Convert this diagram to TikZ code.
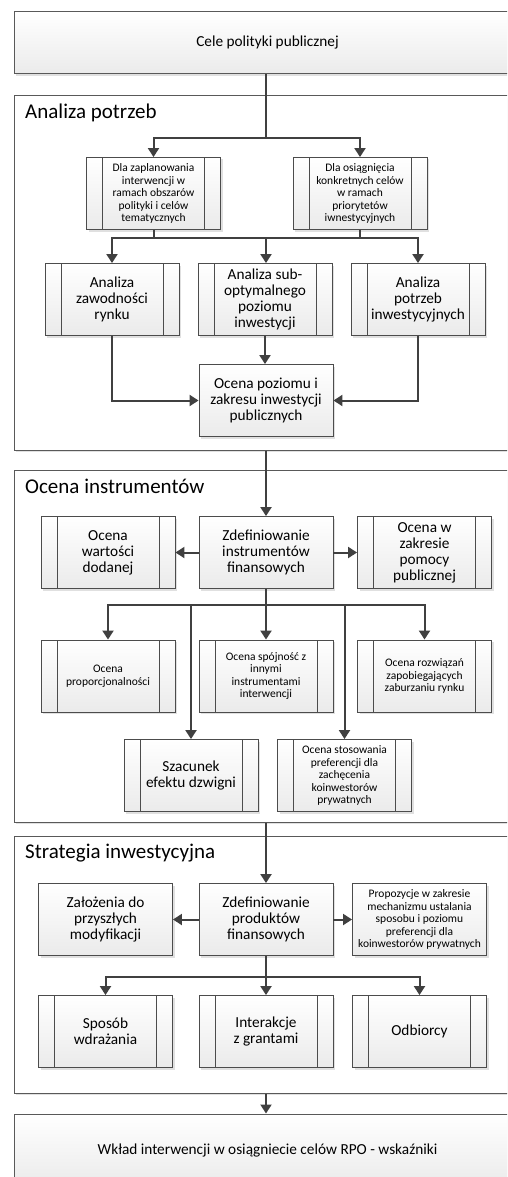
\documentclass[tikz,border=0pt]{standalone}
\usepackage{fontspec}
\setmainfont{Carlito}
\usetikzlibrary{arrows.meta,shadows}

\newlength{\du}
\setlength{\du}{1pt}

\tikzset{
  bigtxt/.style={font=\fontsize{15.3}{16}\selectfont},
  smalltxt/.style={font=\fontsize{11.5}{12.5}\selectfont},
  titletxt/.style={font=\fontsize{21}{23}\selectfont, inner sep=0pt, anchor=base west},
  frame/.style={draw=frameline, line width=1pt, fill=white, minimum width=507\du,
    drop shadow={shadow xshift=2pt, shadow yshift=-2pt, fill=black!12, opacity=1}},
  endbox/.style={frame, top color=white, bottom color=boxfill, bigtxt},
  procbox/.style={draw=boxline, line width=0.9pt, top color=white, bottom color=boxfill,
    minimum width=134\du, minimum height=72\du, align=center, inner sep=1pt,
    drop shadow={shadow xshift=2pt, shadow yshift=-2pt, fill=black!12, opacity=1}},
  subproc/.style={procbox, path picture={
    \draw[boxline, line width=0.8pt]
      ([xshift=16\du]path picture bounding box.north west) -- ([xshift=16\du]path picture bounding box.south west)
      ([xshift=-16\du]path picture bounding box.north east) -- ([xshift=-16\du]path picture bounding box.south east);}},
  link/.style={draw=arrline, line width=2pt},
  arr/.style={link, -{Triangle[length=9pt,width=11pt]}}
}

\begin{document}
\begin{tikzpicture}
\pgftransformxscale{1.000000}
\pgftransformyscale{-1.000000}
\definecolor{frameline}{rgb}{0.35, 0.35, 0.35}
\definecolor{boxline}{rgb}{0.30, 0.30, 0.30}
\definecolor{boxfill}{rgb}{0.92, 0.92, 0.92}
\definecolor{arrline}{rgb}{0.25, 0.25, 0.25}

\useasboundingbox (0,0) rectangle (507\du,1177\du);
\clip (0,0) rectangle (507\du,1177\du);

% frames
\node[endbox, minimum height=62\du] (cele) at (267.5\du,43\du) {Cele polityki publicznej};
\node[frame, minimum height=354\du] (potrzeby) at (267.5\du,273\du) {};
\node[frame, minimum height=352\du] (instr) at (267.5\du,646\du) {};
\node[frame, minimum height=257\du] (strat) at (267.5\du,964.5\du) {};
\node[endbox, minimum height=72\du] (wklad) at (267.5\du,1150\du) {Wk\l{}ad interwencji w osi\k{a}gniecie cel\'ow RPO - wska\'zniki};

\node[titletxt] (potrzebyT) at (25\du,119\du) {Analiza potrzeb};
\node[titletxt] (instrT) at (25\du,493\du) {Ocena instrument\'ow};
\node[titletxt] (stratT) at (25\du,858\du) {Strategia inwestycyjna};

% analiza potrzeb
\node[subproc, smalltxt] (a1) at (153.5\du,193.5\du) {Dla zaplanowania\\interwencji w\\ramach obszar\'ow\\polityki i cel\'ow\\tematycznych};
\node[subproc, smalltxt] (a2) at (360\du,193.5\du) {Dla osi\k{a}gni\k{e}cia\\konkretnych cel\'ow\\w ramach\\priorytet\'ow\\iwnestycyjnych};
\node[subproc, bigtxt] (b1) at (112\du,299.5\du) {Analiza\\zawodno\'sci\\rynku};
\node[subproc, bigtxt] (b2) at (265\du,299.5\du) {Analiza sub-\\optymalnego\\poziomu\\inwestycji};
\node[subproc, bigtxt] (b3) at (418\du,299.5\du) {Analiza\\potrzeb\\inwestycyjnych};
\node[procbox, bigtxt] (c) at (266\du,400.5\du) {Ocena poziomu i\\zakresu inwestycji\\publicznych};

% ocena instrumentow
\node[procbox, bigtxt] (d) at (266\du,552.5\du) {Zdefiniowanie\\instrument\'ow\\finansowych};
\node[subproc, bigtxt] (e1) at (108\du,552.5\du) {Ocena\\warto\'sci\\dodanej};
\node[subproc, bigtxt] (e2) at (424.5\du,552.5\du) {Ocena w\\zakresie\\pomocy\\publicznej};
\node[subproc, smalltxt] (f1) at (108\du,676\du) {Ocena\\proporcjonalno\'sci};
\node[subproc, smalltxt] (f2) at (266\du,676\du) {Ocena sp\'ojno\'s\'c z\\innymi\\instrumentami\\interwencji};
\node[subproc, smalltxt] (f3) at (424.5\du,676\du) {Ocena rozwi\k{a}za\'n\\zapobiegaj\k{a}cych\\zaburzaniu rynku};
\node[subproc, bigtxt] (g1) at (191\du,775.5\du) {Szacunek\\efektu dzwigni};
\node[subproc, smalltxt] (g2) at (344.5\du,775.5\du) {Ocena stosowania\\preferencji dla\\zach\k{e}cenia\\koinwestor\'ow\\prywatnych};

% strategia inwestycyjna
\node[procbox, bigtxt] (h) at (266\du,919.5\du) {Zdefiniowanie\\produkt\'ow\\finansowych};
\node[procbox, bigtxt] (i1) at (105.5\du,919.5\du) {Za\l{}o\.zenia do\\przysz\l{}ych\\modyfikacji};
\node[procbox, smalltxt] (i2) at (419.5\du,919.5\du) {Propozycje w zakresie\\mechanizmu ustalania\\sposobu i poziomu\\preferencji dla\\koinwestor\'ow prywatnych};
\node[subproc, bigtxt] (j1) at (105.5\du,1031.5\du) {Spos\'ob\\wdra\.zania};
\node[subproc, bigtxt] (j2) at (266\du,1031.5\du) {Interakcje\\z grantami};
\node[subproc, bigtxt] (j3) at (419.5\du,1031.5\du) {Odbiorcy};

% connectors
\coordinate (s1) at (266\du,138\du);
\coordinate (s2) at (266\du,238\du);
\coordinate (s3) at (266\du,605\du);
\coordinate (s4) at (266\du,977\du);

\draw[link] (cele.south -| s1) -- (s1);
\draw[arr] (s1) -| (a1);
\draw[arr] (s1) -| (a2);
\draw[link] (a1) |- (s2);
\draw[link] (a2) |- (s2);
\draw[arr] (s2) -| (b1);
\draw[arr] (s2) -- (s2 |- b2.north);
\draw[arr] (s2) -| (b3);
\draw[arr] (b2) -- (b2 |- c.north);
\draw[arr] (b1) |- (c);
\draw[arr] (b3) |- (c);

\draw[arr] (d |- potrzeby.south) -- (d);
\draw[arr] (d) -- (e1);
\draw[arr] (d) -- (e2);
\draw[link] (d) -- (s3);
\draw[arr] (s3) -| (f1);
\draw[arr] (s3) -- (f2);
\draw[arr] (s3) -| (f3);
\draw[arr] (s3) -| (g1);
\draw[arr] (s3) -| (g2);

\draw[arr] (h |- instr.south) -- (h);
\draw[arr] (h) -- (i1);
\draw[arr] (h) -- (i2);
\draw[link] (h) -- (s4);
\draw[arr] (s4) -| (j1);
\draw[arr] (s4) -- (j2);
\draw[arr] (s4) -| (j3);
\draw[arr] (h |- strat.south) -- (h |- wklad.north);
\end{tikzpicture}
\end{document}
